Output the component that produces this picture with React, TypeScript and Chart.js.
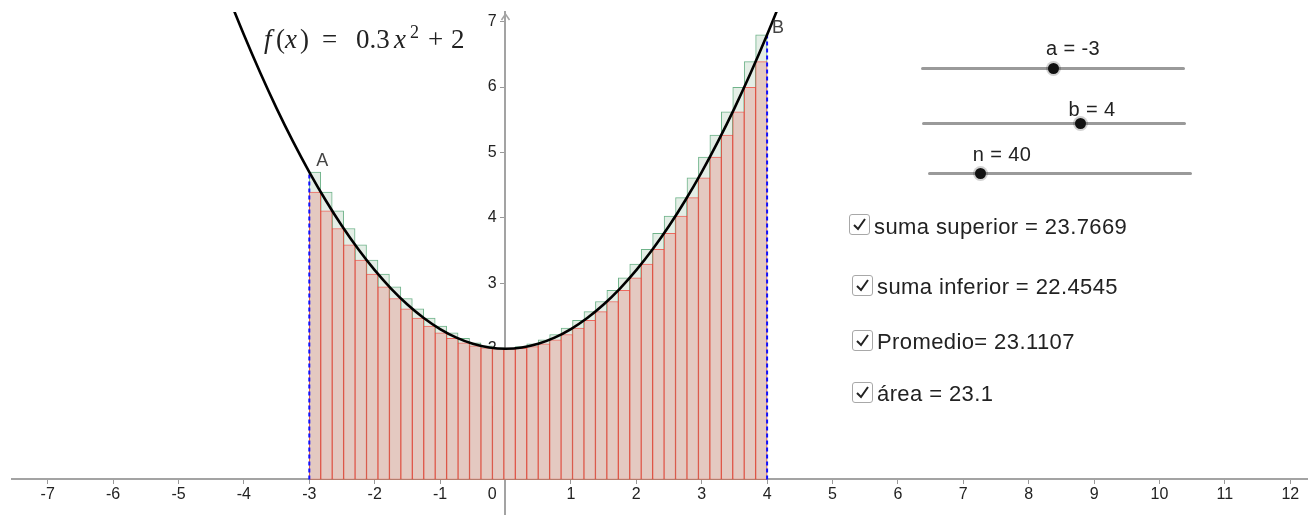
import React, { useEffect, useRef } from 'react';
import { Chart, registerables } from 'chart.js';

Chart.register(...registerables);

// ---------- data ----------
const X_TICKS = [-7, -6, -5, -4, -3, -2, -1, 0, 1, 2, 3, 4, 5, 6, 7, 8, 9, 10, 11, 12];
const Y_TICKS = [1, 2, 3, 4, 5, 6, 7];
const X_MIN = -7.546;
const X_MAX = 12.271;
const Y_MIN = -0.543;
const Y_MAX = 7.148;

// midpoints of the 40 sub-intervals of [-3, 4]
const MIDPOINTS = [
  -2.9125, -2.7375, -2.5625, -2.3875, -2.2125, -2.0375, -1.8625, -1.6875, -1.5125, -1.3375,
  -1.1625, -0.9875, -0.8125, -0.6375, -0.4625, -0.2875, -0.1125, 0.0625, 0.2375, 0.4125,
  0.5875, 0.7625, 0.9375, 1.1125, 1.2875, 1.4625, 1.6375, 1.8125, 1.9875, 2.1625,
  2.3375, 2.5125, 2.6875, 2.8625, 3.0375, 3.2125, 3.3875, 3.5625, 3.7375, 3.9125,
];
const UPPER = [
  4.7, 4.394, 4.107, 3.838, 3.587, 3.355, 3.141, 2.945, 2.768, 2.609,
  2.469, 2.347, 2.243, 2.158, 2.091, 2.042, 2.012, 2.007, 2.032, 2.075,
  2.137, 2.217, 2.315, 2.432, 2.567, 2.721, 2.893, 3.083, 3.292, 3.519,
  3.764, 4.028, 4.31, 4.611, 4.93, 5.267, 5.623, 5.997, 6.389, 6.8,
];
const LOWER = [
  4.394, 4.107, 3.838, 3.587, 3.355, 3.141, 2.945, 2.768, 2.609, 2.469,
  2.347, 2.243, 2.158, 2.091, 2.042, 2.012, 2.0, 2.0, 2.007, 2.032,
  2.075, 2.137, 2.217, 2.315, 2.432, 2.567, 2.721, 2.893, 3.083, 3.292,
  3.519, 3.764, 4.028, 4.31, 4.611, 4.93, 5.267, 5.623, 5.997, 6.389,
];
const CURVE_X = [
  -4.5, -4.25, -4, -3.75, -3.5, -3.25, -3, -2.75, -2.5, -2.25, -2, -1.75, -1.5, -1.25, -1, -0.75, -0.5, -0.25,
  0, 0.25, 0.5, 0.75, 1, 1.25, 1.5, 1.75, 2, 2.25, 2.5, 2.75, 3, 3.25, 3.5, 3.75, 4, 4.25, 4.5,
];
const CURVE_Y = [
  8.075, 7.419, 6.8, 6.219, 5.675, 5.169, 4.7, 4.269, 3.875, 3.519, 3.2, 2.919, 2.675, 2.469, 2.3, 2.169, 2.075, 2.019,
  2, 2.019, 2.075, 2.169, 2.3, 2.469, 2.675, 2.919, 3.2, 3.519, 3.875, 4.269, 4.7, 5.169, 5.675, 6.219, 6.8, 7.419, 8.075,
];
const POINT_NAMES = ['A', 'B'];
const POINT_X = [-3, 4];
const POINT_Y = [4.7, 6.8];

const SLIDER_LABELS = ['a = -3', 'b = 4', 'n = 40'];
const CHECK_LABELS = ['suma superior = 23.7669', 'suma inferior = 22.4545', 'Promedio= 23.1107', 'área = 23.1'];

// ---------- styles ----------
const SANS = "'Liberation Sans', Arial, Helvetica, sans-serif";
const SERIF = "'Liberation Serif', 'Times New Roman', serif";
const LABEL_OFFSETS = [
  [13, -11],
  [11, -7],
];

const overlayPlugin = {
  id: 'geoOverlay',
  afterDraw(chart: any) {
    const { ctx, chartArea, scales } = chart;
    const xs = scales.x;
    const ys = scales.y;
    const ax = xs.getPixelForValue(0);
    const top = chartArea.top + 2;
    ctx.save();
    ctx.strokeStyle = '#a3a3a3';
    ctx.lineWidth = 1.5;
    ctx.beginPath();
    ctx.moveTo(ax - 4, top + 6);
    ctx.lineTo(ax, top);
    ctx.lineTo(ax + 4, top + 6);
    ctx.stroke();

    ctx.font = `18px ${SANS}`;
    ctx.fillStyle = '#444';
    ctx.textAlign = 'center';
    ctx.textBaseline = 'middle';
    POINT_NAMES.forEach((name, i) => {
      const px = xs.getPixelForValue(POINT_X[i]);
      const py = ys.getPixelForValue(POINT_Y[i]);
      ctx.fillText(name, px + LABEL_OFFSETS[i][0], py + LABEL_OFFSETS[i][1]);
    });
    ctx.restore();
  },
};

function zeroPad(scale: any) {
  scale.paddingLeft = 0;
  scale.paddingRight = 0;
  scale.paddingTop = 0;
  scale.paddingBottom = 0;
}

function Slider({ label, y, x1, x2, dot, lx, ly }: any) {
  return (
    <>
      <div
        style={{
          position: 'absolute',
          left: x1,
          top: y - 1.5,
          width: x2 - x1,
          height: 3,
          background: '#9a9a9a',
          borderRadius: 1.5,
        }}
      />
      <div
        style={{
          position: 'absolute',
          left: dot - 5.5,
          top: y - 5.5,
          width: 11,
          height: 11,
          borderRadius: '50%',
          background: '#111',
          boxShadow: '0 0 0 2px rgba(0,0,0,0.18)',
        }}
      />
      <div
        style={{
          position: 'absolute',
          left: lx,
          top: ly,
          transform: 'translate(-50%, -50%)',
          fontFamily: SANS,
          fontSize: 20,
          lineHeight: '20px',
          color: '#222',
          whiteSpace: 'pre',
          letterSpacing: 0.4,
        }}
      >
        {label}
      </div>
    </>
  );
}

function Check({ label, bx, by, tx, ty }: any) {
  return (
    <>
      <div
        style={{
          position: 'absolute',
          left: bx,
          top: by,
          width: 19,
          height: 19,
          border: '1.5px solid #a8a8a8',
          borderRadius: 3,
          background: '#fff',
        }}
      >
        <svg width="19" height="19" style={{ position: 'absolute', left: 0, top: 0 }}>
          <polyline points="4,10 8,14 15,4" fill="none" stroke="#222" strokeWidth="2" />
        </svg>
      </div>
      <div
        style={{
          position: 'absolute',
          left: tx,
          top: ty,
          transform: 'translateY(-50%)',
          fontFamily: SANS,
          fontSize: 22,
          lineHeight: '22px',
          color: '#222',
          whiteSpace: 'pre',
          letterSpacing: 0.4,
        }}
      >
        {label}
      </div>
    </>
  );
}

function Formula() {
  const base: any = { position: 'absolute', fontFamily: SERIF, fontSize: 27, lineHeight: '27px', color: '#222' };
  return (
    <>
      <span style={{ ...base, left: 264, top: 26, fontStyle: 'italic' }}>f</span>
      <span style={{ ...base, left: 276, top: 26 }}>(</span>
      <span style={{ ...base, left: 285, top: 26, fontStyle: 'italic' }}>x</span>
      <span style={{ ...base, left: 300, top: 26 }}>)</span>
      <span style={{ ...base, left: 322, top: 26 }}>=</span>
      <span style={{ ...base, left: 356, top: 26 }}>0.3</span>
      <span style={{ ...base, left: 394, top: 26, fontStyle: 'italic' }}>x</span>
      <span style={{ ...base, left: 410, top: 23, fontSize: 18, lineHeight: '18px' }}>2</span>
      <span style={{ ...base, left: 428, top: 26 }}>+</span>
      <span style={{ ...base, left: 451, top: 26 }}>2</span>
    </>
  );
}

export default function App() {
  const ref = useRef<HTMLCanvasElement>(null);

  useEffect(() => {
    if (!ref.current) return;
    const upperData = MIDPOINTS.map((x, i) => ({ x, y: UPPER[i] }));
    const lowerData = MIDPOINTS.map((x, i) => ({ x, y: LOWER[i] }));
    const curveData = CURVE_X.map((x, i) => ({ x, y: CURVE_Y[i] }));
    const dashA = [
      { x: POINT_X[0], y: 0 },
      { x: POINT_X[0], y: POINT_Y[0] },
    ];
    const dashB = [
      { x: POINT_X[1], y: 0 },
      { x: POINT_X[1], y: POINT_Y[1] },
    ];

    const chart = new Chart(ref.current, {
      type: 'bar',
      data: {
        datasets: [
          {
            type: 'bar',
            label: 'suma superior',
            data: upperData as any,
            backgroundColor: '#e4eee6',
            borderColor: '#6fb38a',
            borderWidth: 1,
            borderSkipped: false,
            grouped: false,
            barPercentage: 1,
            categoryPercentage: 1,
            order: 5,
          },
          {
            type: 'bar',
            label: 'suma inferior',
            data: lowerData as any,
            backgroundColor: '#e4c9c1',
            borderColor: 'rgba(240,70,60,0.8)',
            borderWidth: 1,
            borderSkipped: false,
            grouped: false,
            barPercentage: 1,
            categoryPercentage: 1,
            order: 4,
          },
          {
            type: 'line',
            label: 'a',
            data: dashA as any,
            borderColor: '#1010ff',
            borderWidth: 2,
            borderDash: [4, 3],
            pointRadius: 0,
            order: 3,
          },
          {
            type: 'line',
            label: 'b',
            data: dashB as any,
            borderColor: '#1010ff',
            borderWidth: 2,
            borderDash: [4, 3],
            pointRadius: 0,
            order: 2,
          },
          {
            type: 'line',
            label: 'f',
            data: curveData as any,
            borderColor: '#000',
            borderWidth: 2.6,
            pointRadius: 0,
            cubicInterpolationMode: 'monotone',
            order: 1,
          },
        ],
      },
      options: {
        animation: false,
        responsive: false,
        devicePixelRatio: 1,
        events: [],
        layout: { padding: { top: 12, left: 12, right: 0, bottom: 0 } },
        plugins: { legend: { display: false }, tooltip: { enabled: false } },
        scales: {
          x: {
            type: 'linear',
            position: { y: 0 } as any,
            min: X_MIN,
            max: X_MAX,
            offset: false,
            grid: { display: true, drawOnChartArea: false, drawTicks: true, tickLength: 4, color: '#999', offset: false },
            border: { display: true, color: '#a3a3a3', width: 2 },
            ticks: {
              autoSkip: false,
              maxRotation: 0,
              padding: 2,
              color: '#222',
              font: { family: SANS, size: 16 },
              callback: (v: any) => (v === 0 ? '0      ' : String(v)),
            },
            afterBuildTicks: (scale: any) => {
              scale.ticks = X_TICKS.map((value) => ({ value }));
            },
            afterFit: zeroPad,
          },
          y: {
            type: 'linear',
            position: { x: 0 } as any,
            min: Y_MIN,
            max: Y_MAX,
            grid: { display: true, drawOnChartArea: false, drawTicks: true, tickLength: 4, color: '#999' },
            border: { display: true, color: '#a3a3a3', width: 2 },
            ticks: {
              padding: 0,
              color: '#222',
              font: { family: SANS, size: 16 },
              callback: (v: any) => `${v}  `,
            },
            afterBuildTicks: (scale: any) => {
              scale.ticks = Y_TICKS.map((value) => ({ value }));
            },
            afterFit: zeroPad,
          },
        },
      },
      plugins: [overlayPlugin],
    } as any);

    return () => chart.destroy();
  }, []);

  return (
    <div
      style={{
        position: 'fixed',
        left: 0,
        top: 0,
        width: 1308,
        height: 515,
        overflow: 'hidden',
        background: '#fff',
      }}
    >
      <canvas ref={ref} width={1308} height={515} style={{ position: 'absolute', left: 0, top: 0, width: 1308, height: 515 }} />
      <Formula />
      <Slider label={SLIDER_LABELS[0]} y={68} x1={921} x2={1185} dot={1053} lx={1073} ly={48} />
      <Slider label={SLIDER_LABELS[1]} y={123} x1={922} x2={1186} dot={1080} lx={1092} ly={109} />
      <Slider label={SLIDER_LABELS[2]} y={173} x1={928} x2={1192} dot={980} lx={1002} ly={154} />
      <Check label={CHECK_LABELS[0]} bx={849} by={214} tx={874} ty={227} />
      <Check label={CHECK_LABELS[1]} bx={852} by={275} tx={877} ty={287} />
      <Check label={CHECK_LABELS[2]} bx={852} by={330} tx={877} ty={342} />
      <Check label={CHECK_LABELS[3]} bx={852} by={382} tx={877} ty={394} />
    </div>
  );
}
